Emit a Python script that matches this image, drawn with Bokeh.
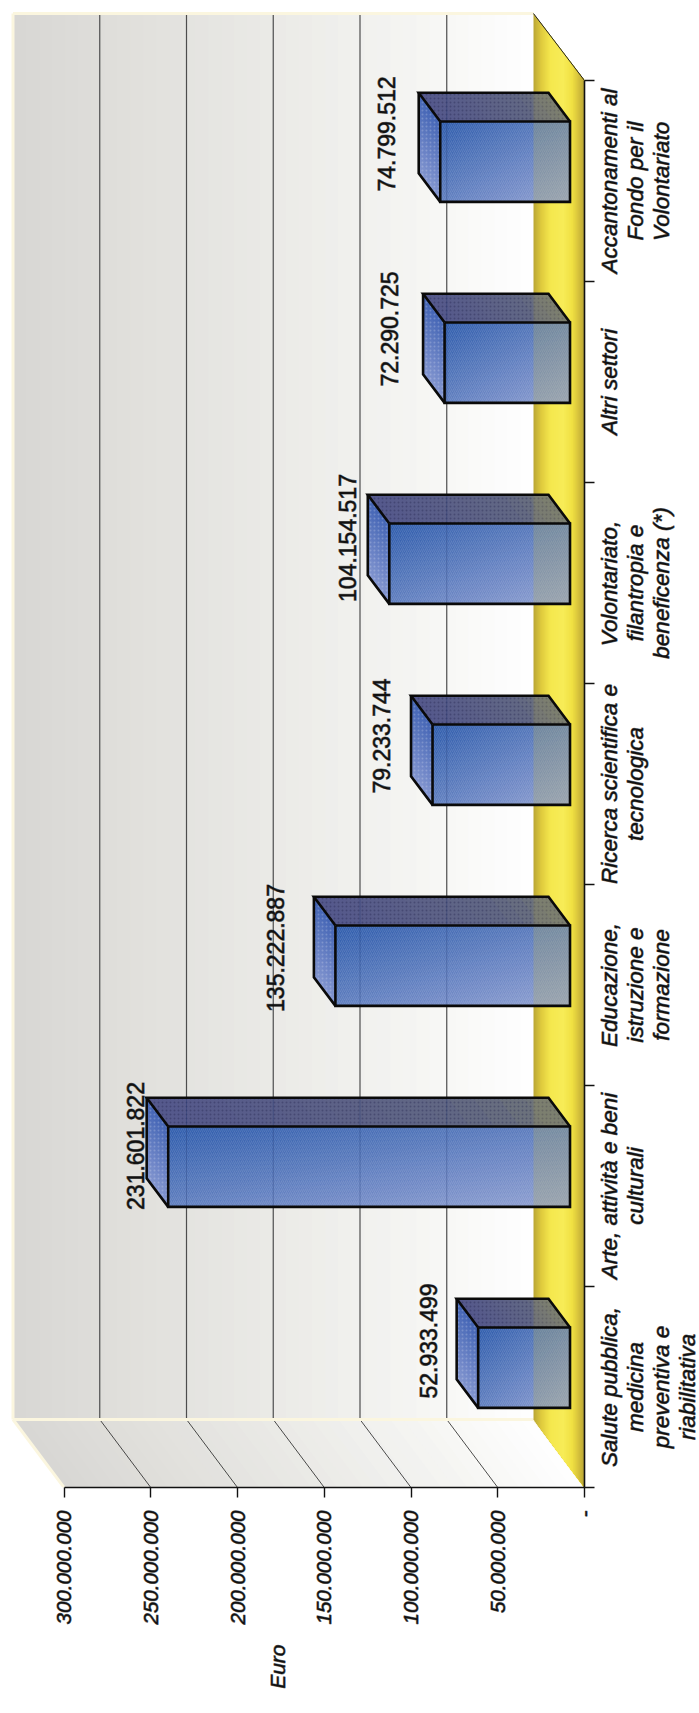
import math
from bokeh.plotting import figure
from bokeh.embed import file_html
from bokeh.resources import INLINE
from bokeh.models import Range1d, LinearAxis, FixedTicker
from bokeh.core.properties import value

# ---- data ----
categories = [["Salute pubblica,", "medicina", "preventiva e", "riabilitativa"],
              ["Arte, attività e beni", "culturali"],
              ["Educazione,", "istruzione e", "formazione"],
              ["Ricerca scientifica e", "tecnologica"],
              ["Volontariato,", "filantropia e", "beneficenza (*)"],
              ["Altri settori"],
              ["Accantonamenti al", "Fondo per il", "Volontariato"]]
amounts = [52933499, 231601822, 135222887, 79233744, 104154517, 72290725, 74799512]
value_ticks = [0, 50e6, 100e6, 150e6, 200e6, 250e6, 300e6]
value_tick_labels = ["-", "50.000.000", "100.000.000", "150.000.000", "200.000.000", "250.000.000", "300.000.000"]
axis_title = "Euro"

# ---- geometry of the pseudo-3D scene, in data units ----
PX_X = 520.5 / 300e6      # px per euro
PX_Y = 201.0              # px per category
FRAME_W, FRAME_H = 584, 1487
PAGE_H = 1713
DX = 51 / PX_X            # depth of the scene along the value axis
DY = 68 / PX_Y            # depth of the scene along the category axis
DY_T = 67 / PX_Y
Y_TOP = 7.0
Y_WALL = Y_TOP + DY_T
BAR_F0, BAR_F1 = 0.284, 0.706
BAR_W = 0.40
WALL_STOPS = [(0, (216, 215, 212)), (.3, (227, 226, 222)), (.6, (238, 238, 235)), (.8, (246, 246, 244)), (1, (255, 255, 255))]
FLOOR_STOPS = [(0, (186, 166, 52)), (.16, (224, 204, 62)), (.34, (245, 232, 78)), (.58, (247, 236, 88)),
               (.76, (240, 224, 66)), (.88, (214, 194, 60)), (1, (184, 164, 52))]
# hand placement of the value labels in px (the source placed them individually)
LABEL_DX = [-28, -11, -38, -29.5, -20, -34, -32]
LABEL_DY = [-46, -40, -37, -48, -45, -53, -47]
INK = "#111111"
WEIGHT = "#11111199"      # thin translucent outline: the source text is a little heavier than regular
CAT_FONT_PX = 22.5
# Helvetica-style advance widths, used to centre the rotated category lines
WIDTHS = {"a": .556, "b": .556, "c": .5, "d": .556, "e": .556, "f": .278, "g": .556, "h": .556, "i": .222, "j": .222,
          "k": .5, "l": .222, "m": .833, "n": .556, "o": .556, "p": .556, "q": .556, "r": .333, "s": .5, "t": .278,
          "u": .556, "v": .5, "w": .722, "x": .5, "y": .5, "z": .5, "A": .667, "E": .667, "F": .611, "R": .722,
          "S": .667, "V": .667, ",": .278, " ": .278, "(": .333, ")": .333, "*": .389, "à": .556}

def lerp(stops, t):
    for (a, ca), (b, cb) in zip(stops, stops[1:]):
        if t <= b:
            k = (t - a) / (b - a)
            return tuple(ca[i] + (cb[i] - ca[i]) * k for i in range(3))
    return stops[-1][1]

def hexc(c):
    return "#%02x%02x%02x" % tuple(int(round(v)) for v in c)

x_max = FRAME_W / PX_X
p = figure(width=699, height=PAGE_H, frame_width=FRAME_W, frame_height=FRAME_H,
           x_range=Range1d(x_max, 0), y_range=Range1d(0, FRAME_H / PX_Y),
           x_axis_type=None, y_axis_type=None, toolbar_location=None,
           output_backend="svg", min_border=0, outline_line_color=None,
           background_fill_color="white", border_fill_color="white")
p.grid.visible = False
p.styles = {"position": "absolute", "left": "0px", "top": "0px"}

# ---- walls ----
N = 40
back_x_0, back_x_1 = DX, 300e6 + DX
xs, ys, cs = [], [], []
for i in range(N):
    t = i / N
    xl = back_x_1 + (back_x_0 - back_x_1) * t
    col = hexc(lerp(WALL_STOPS, (i + .5) / N))
    xs.append([xl, back_x_0, back_x_0, xl])
    ys.append([DY, DY, Y_WALL, Y_WALL])
    cs.append(col)
    xs.append([xl, back_x_0, back_x_0 - DX, xl - DX])
    ys.append([DY, DY, 0, 0])
    cs.append(col)
p.patches(xs, ys, fill_color=cs, line_color=None)

# grid lines
grid = [v for v in value_ticks if 0 < v < 300e6]
p.segment([v + DX for v in grid], DY, [v + DX for v in grid], Y_WALL, line_color="#4d4d4d", line_width=1.2)
p.segment(grid, 0, [v + DX for v in grid], DY, line_color="#222222", line_width=0.8)

# cream edges
CREAM = "#fbf6df"
p.line([back_x_1, back_x_1], [DY, Y_WALL], line_color=CREAM, line_width=3)
p.line([back_x_0, back_x_1], [Y_WALL, Y_WALL], line_color=CREAM, line_width=3)
p.line([back_x_0, back_x_1], [DY, DY], line_color=CREAM, line_width=3)
p.line([back_x_1, 300e6], [DY, 0], line_color=CREAM, line_width=3)
p.line([back_x_0, 0], [DY, 0], line_color=CREAM, line_width=2)

# ---- floor ----
xs, ys, cs = [], [], []
for i in range(N):
    x0 = DX * (1 - i / N)
    f = x0 / DX
    xs.append([x0, 0, 0, x0])
    ys.append([DY * f, 0, Y_TOP, Y_TOP + f * DY_T])
    cs.append(hexc(lerp(FLOOR_STOPS, (i + .5) / N)))
p.patches(xs, ys, fill_color=cs, line_color=None)
p.line([DX, 0], [Y_WALL, Y_TOP], line_color="#222222", line_width=1)

# ---- bars ----
BAND = 36
FRONT_A = (46, 92, 172)
FRONT_B = (144, 160, 210)
base = DX * BAR_F0
d_bar = DX * (BAR_F1 - BAR_F0)
dy_f = DY * BAR_F0
dy_b = DY * BAR_F1

def clip_band(t):
    """unit square (u = along value from top end, v = down) cut by (u+v)/2 >= t"""
    s = 2 * t
    if s <= 0:
        return [(0, 0), (1, 0), (1, 1), (0, 1)]
    if s <= 1:
        return [(s, 0), (1, 0), (1, 1), (0, 1), (0, s)]
    return [(1, s - 1), (1, 1), (s - 1, 1)]

for k, amount in enumerate(amounts):
    yc = k + .5
    top_front = yc + BAR_W / 2 + dy_f
    low_front = yc - BAR_W / 2 + dy_f
    top_back = yc + BAR_W / 2 + dy_b
    low_back = yc - BAR_W / 2 + dy_b
    x_front_end = base + amount
    x_back_end = base + amount + d_bar
    x_back_base = base + d_bar

    # front face gradient
    xs, ys, cs = [], [], []
    for i in range(BAND):
        t = i / BAND
        poly = clip_band(t)
        xs.append([x_front_end + (base - x_front_end) * u for u, v in poly])
        ys.append([top_front + (low_front - top_front) * v for u, v in poly])
        cs.append(hexc(lerp([(0, FRONT_A), (1, FRONT_B)], (i + .5) / BAND)))
    p.patches(xs, ys, fill_color=cs, line_color=None)

    # top-of-bar (left) face
    xs, ys, cs = [], [], []
    for i in range(12):
        f = i / 12
        xs.append([x_back_end, x_front_end, x_front_end, x_back_end])
        ys.append([top_back + (low_back - top_back) * f, top_front + (low_front - top_front) * f, low_front, low_back])
        cs.append(hexc(lerp([(0, (66, 100, 180)), (1, (132, 150, 208))], (i + .5) / 12)))
    p.patches(xs, ys, fill_color=cs, line_color=None)

    # upper (side) face
    xs, ys, cs = [], [], []
    for i in range(16):
        f = i / 16
        xs.append([x_back_end + (x_back_base - x_back_end) * f, x_back_base, base, x_front_end + (base - x_front_end) * f])
        ys.append([top_back, top_back, top_front, top_front])
        cs.append(hexc(lerp([(0, (84, 88, 140)), (.75, (98, 104, 132)), (1, (112, 118, 120))], (i + .5) / 16)))
    p.patches(xs, ys, fill_color=cs, line_color=None)

    # texture
    p.patch([x_back_end, x_back_base, base, x_front_end], [top_back, top_back, top_front, top_front],
            fill_alpha=0, line_color=None, hatch_pattern="dot", hatch_scale=4, hatch_color="#20204a", hatch_alpha=.35)
    p.patch([x_back_end, x_front_end, x_front_end, x_back_end], [top_back, top_front, low_front, low_back],
            fill_alpha=0, line_color=None, hatch_pattern="dot", hatch_scale=4, hatch_color="#ffffff", hatch_alpha=.2)
    p.patch([x_front_end, base, base, x_front_end], [top_front, top_front, low_front, low_front],
            fill_alpha=0, line_color=None, hatch_pattern="right_diagonal_line", hatch_scale=4, hatch_weight=1,
            hatch_color="#ffffff", hatch_alpha=.12)

    # floor and grid seen through the semi-transparent bar
    xl = min(DX, x_front_end)
    p.patch([xl, base, base, xl], [top_front, top_front, low_front, low_front],
            fill_color="#b8b050", fill_alpha=.26, line_color=None)
    p.patch([DX, x_back_base, base, DX], [top_back, top_back, top_front, top_front],
            fill_color="#a8a050", fill_alpha=.26, line_color=None)
    for v in grid:
        gx = v + DX
        if gx < x_front_end:
            p.line([gx, gx], [low_front, top_back], line_color="#16306e", line_alpha=.3, line_width=1)

    # outlines
    OUT = dict(line_color="#0a0a0a", line_width=2.6, line_join="miter")
    p.line([x_front_end, base, base, x_front_end, x_front_end], [top_front, top_front, low_front, low_front, top_front], **OUT)
    p.line([x_front_end, x_back_end, x_back_base, base], [top_front, top_back, top_back, top_front], **OUT)
    p.line([x_back_end, x_back_end, x_front_end], [top_back, low_back, low_front], **OUT)

    # value label
    label = f"{amount:,}".replace(",", ".")
    p.text([x_back_end - LABEL_DX[k] / PX_X], [yc - LABEL_DY[k] / PX_Y], text=[label], angle=math.pi / 2,
           text_align="center", text_baseline="middle", text_font=value("Liberation Sans"),
           text_font_size="23px", text_color=INK, text_outline_color=WEIGHT)

# ---- axes ----
AX_FONT = dict(major_label_text_font="Liberation Sans", major_label_text_font_size="20.5px",
               major_label_text_font_style="italic", major_label_text_color=INK,
               major_label_text_outline_color=WEIGHT)
BARE = dict(major_tick_in=0, major_tick_out=0, minor_tick_out=0, minor_tick_in=0,
            axis_line_color=None, major_tick_line_color=None)

xaxis = LinearAxis(ticker=FixedTicker(ticks=value_ticks), bounds=(0, 300e6),
                   major_label_overrides={v: s for v, s in zip(value_ticks, value_tick_labels)},
                   major_label_orientation=math.pi / 2, major_label_standoff=13,
                   major_tick_in=0, major_tick_out=10, minor_tick_out=0, minor_tick_in=0,
                   axis_line_color=INK, axis_line_width=1.6, major_tick_line_color=INK,
                   major_tick_line_width=1.4, **AX_FONT)
p.add_layout(xaxis, "below")

# the off-centre "Euro" title is the single tick label of a second, bare axis
title_value = round((FRAME_W - 276.5) / PX_X)
p.add_layout(LinearAxis(ticker=FixedTicker(ticks=[title_value]), major_label_overrides={title_value: axis_title},
                        major_label_orientation=math.pi / 2, major_label_standoff=17, **BARE,
                        **dict(AX_FONT, major_label_text_font_size="21px")), "below")

cat_ticks = list(range(len(categories) + 1))
yaxis = LinearAxis(ticker=FixedTicker(ticks=cat_ticks), bounds=(0, len(categories)),
                   major_label_overrides={c: "" for c in cat_ticks},
                   major_tick_in=0, major_tick_out=10, minor_tick_out=0, minor_tick_in=0,
                   axis_line_color=INK, axis_line_width=1.6, major_tick_line_color=INK,
                   major_tick_line_width=1.4, major_label_standoff=0, **AX_FONT)
p.add_layout(yaxis, "right")

# each line of the wrapped category names lives on its own stacked axis;
# rotated tick labels start at their tick, so the tick is set half a text length below the centre
CAT_FONT = dict(AX_FONT, major_label_text_font_size=f"{CAT_FONT_PX}px")
for j in range(max(len(c) for c in categories)):
    ticks, overrides = [], {}
    for k, lines in enumerate(categories):
        if j < len(lines):
            w = sum(WIDTHS[ch] for ch in lines[j]) * CAT_FONT_PX
            t = round(k + .5 - w / 2 / PX_Y, 4)
            ticks.append(t)
            overrides[t] = lines[j]
    p.add_layout(LinearAxis(ticker=FixedTicker(ticks=ticks), major_label_overrides=overrides,
                            major_label_orientation=math.pi / 2, major_label_standoff=(15 if j == 0 else -2),
                            **BARE, **CAT_FONT), "right")

open("out.html", "w").write(file_html(p, INLINE))
